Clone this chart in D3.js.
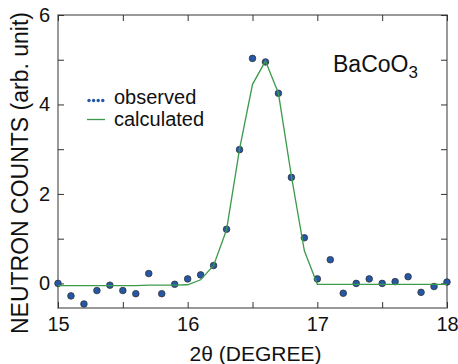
<!DOCTYPE html>
<html>
<head>
<meta charset="utf-8">
<script src="https://cdn.jsdelivr.net/npm/d3@7"></script>
<style>
  body { margin: 0; background: #fff; }
  text { font-family: "Liberation Sans", Arial, sans-serif; fill: #111; }
</style>
</head>
<body>
<div id="chart"></div>
<script>
// chart data
var twoTheta = [15.0, 15.1, 15.2, 15.3, 15.4, 15.5, 15.6, 15.7, 15.8, 15.9,
  16.0, 16.1, 16.2, 16.3, 16.4, 16.5, 16.6, 16.7, 16.8, 16.9,
  17.0, 17.1, 17.2, 17.3, 17.4, 17.5, 17.6, 17.7, 17.8, 17.9, 18.0];
var observed = [0.0, -0.28, -0.46, -0.16, -0.04, -0.16, -0.23, 0.22, -0.23, -0.02,
  0.10, 0.19, 0.40, 1.21, 2.99, 5.03, 4.95, 4.25, 2.37, 1.02,
  0.10, 0.53, -0.22, 0.0, 0.10, 0.0, 0.04, 0.15, -0.20, -0.07, 0.03];
var calculated = [-0.05, -0.05, -0.05, -0.05, -0.05, -0.05, -0.05, -0.04, -0.04, -0.04,
  -0.03, 0.08, 0.40, 1.20, 3.00, 4.45, 4.97, 4.25, 2.40, 0.73,
  -0.02, -0.02, -0.02, -0.02, -0.02, -0.02, -0.02, -0.02, -0.02, -0.02, -0.02];
var xTicks = [15, 16, 17, 18];
var yTicks = [0, 2, 4, 6];

var svgWidth = 458, svgHeight = 364;
var margin = { top: 15, right: 11, bottom: 56, left: 58 };
var width = svgWidth - margin.left - margin.right;
var height = svgHeight - margin.top - margin.bottom;

var svg = d3.select("#chart").append("svg")
  .attr("width", svgWidth)
  .attr("height", svgHeight);

var g = svg.append("g")
  .attr("transform", `translate(${margin.left}, ${margin.top})`);

var x = d3.scaleLinear().domain([15, 18]).range([0, width]);
var y = d3.scaleLinear().domain([-0.55, 6]).range([height, 0]);

// frame
g.append("rect")
  .attr("width", width).attr("height", height)
  .attr("fill", "none").attr("stroke", "#808080").attr("stroke-width", 1.6);

// ticks pointing inward, on all four sides
function tickAxis(axis, transform) {
  var a = g.append("g").attr("transform", transform).call(axis);
  a.select(".domain").remove();
  a.selectAll("line").attr("stroke", "#333");
  return a;
}
var xMinor = d3.range(15, 18.01, 0.5);
var yMinor = d3.range(0, 6.01, 1);
var bottom = tickAxis(d3.axisBottom(x).tickValues(xMinor).tickSize(-6).tickFormat(d => xTicks.includes(d) ? d : ""), `translate(0,${height})`);
bottom.selectAll("text").attr("y", 23).attr("dy", 0).style("font-size", "20px");
tickAxis(d3.axisTop(x).tickValues(xMinor).tickSize(-6).tickFormat(""), "translate(0,0)");
var left = tickAxis(d3.axisLeft(y).tickValues(yMinor).tickSize(-6).tickFormat(d => yTicks.includes(d) ? d : ""), "translate(0,0)");
left.selectAll("text").attr("x", -8).style("font-size", "20px");
tickAxis(d3.axisRight(y).tickValues(yMinor).tickSize(-6).tickFormat(""), `translate(${width},0)`);

// observed points
g.selectAll("circle.obs")
  .data(twoTheta)
  .enter().append("circle")
  .attr("class", "obs")
  .attr("cx", (d, i) => x(d))
  .attr("cy", (d, i) => y(observed[i]))
  .attr("r", 3.3)
  .attr("fill", "#2458a6")
  .attr("stroke", "#333")
  .attr("stroke-width", 0.8);

// calculated line
var line = d3.line()
  .x((d, i) => x(d))
  .y((d, i) => y(calculated[i]));
g.append("path")
  .datum(twoTheta)
  .attr("d", line)
  .attr("fill", "none")
  .attr("stroke", "#3c9a4c")
  .attr("stroke-width", 1.3);

// legend
var leg = svg.append("g");
leg.selectAll("circle")
  .data([0, 1, 2, 3])
  .enter().append("circle")
  .attr("cx", d => 89 + d * 4.6)
  .attr("cy", 100.5)
  .attr("r", 1.7)
  .attr("fill", "#2458a6");
leg.append("text").attr("x", 114).attr("y", 104).style("font-size", "20px").text("observed");
leg.append("line").attr("x1", 87).attr("x2", 105).attr("y1", 119.5).attr("y2", 119.5)
  .attr("stroke", "#3c9a4c").attr("stroke-width", 1.3);
leg.append("text").attr("x", 114).attr("y", 126).style("font-size", "20px").text("calculated");

// compound label
var lab = svg.append("text").attr("x", 333).attr("y", 72).style("font-size", "23px");
lab.append("tspan").text("BaCoO");
lab.append("tspan").attr("dy", 6).style("font-size", "17px").text("3");

// axis titles
svg.append("text")
  .attr("x", margin.left + width / 2 + 3)
  .attr("y", 361)
  .attr("text-anchor", "middle")
  .style("font-size", "21px")
  .text("2θ (DEGREE)");
svg.append("text")
  .attr("transform", `translate(28, 173) rotate(-90)`)
  .attr("text-anchor", "middle")
  .style("font-size", "23px")
  .text("NEUTRON COUNTS (arb. unit)");
</script>
</body>
</html>
